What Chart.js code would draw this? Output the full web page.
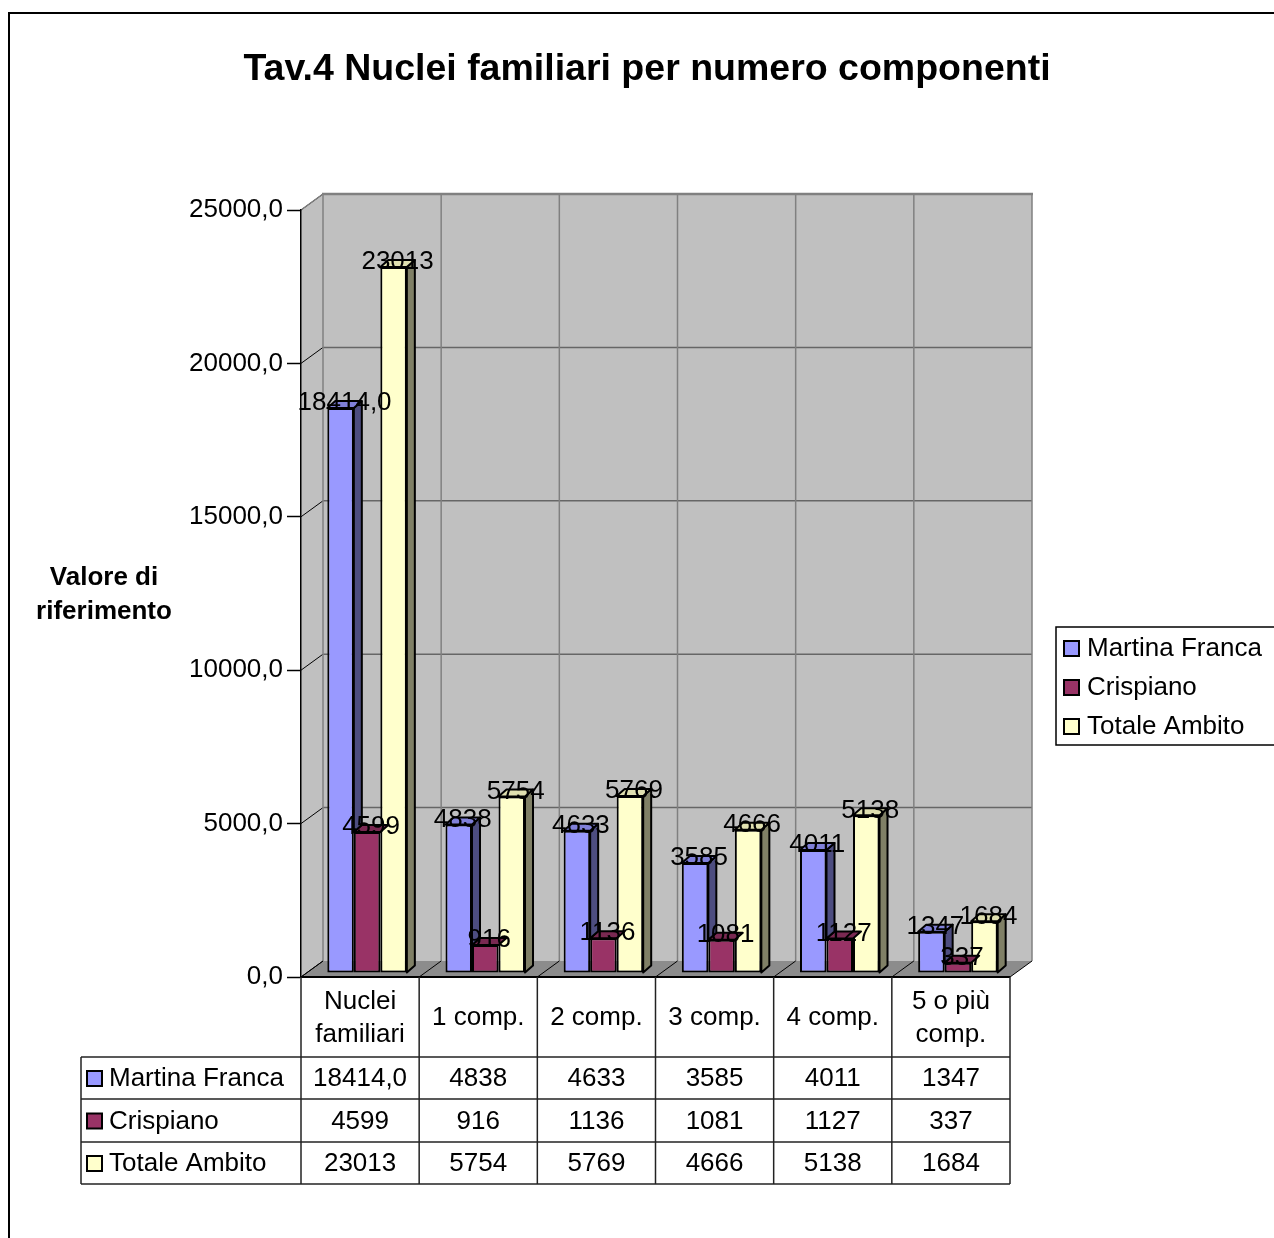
<!DOCTYPE html>
<html>
<head>
<meta charset="utf-8">
<script src="https://cdn.jsdelivr.net/npm/chart.js@4.4.1/dist/chart.umd.min.js"></script>
<style>
  body { margin: 0; background: #fff; }
  canvas { display: block; }
</style>
</head>
<body>
<canvas id="chart" width="1274" height="1238"></canvas>
<script>
// data
const categories = [["Nuclei", "familiari"], ["1 comp."], ["2 comp."], ["3 comp."], ["4 comp."], ["5 o più", "comp."]];
const seriesNames = ["Martina Franca", "Crispiano", "Totale Ambito"];
const martinaFranca = [18414, 4838, 4633, 3585, 4011, 1347];
const crispiano = [4599, 916, 1136, 1081, 1127, 337];
const totaleAmbito = [23013, 5754, 5769, 4666, 5138, 1684];
const yTicks = [0, 5000, 10000, 15000, 20000, 25000];

const FONT = "'Liberation Sans', Arial, sans-serif";
const frontColors = ["#9999FF", "#993366", "#FFFFCC"];
const sideColors = ["#4D4D80", "#4D1A33", "#808066"];
const topColors = ["#8080D9", "#7A2952", "#E0E0B0"];

const WALL_DX = 22, WALL_DY = -16;        // depth of the walls
const BAR_SHIFT_X = 7, BAR_SHIFT_Y = -4;  // bars stand a little inside the floor
const BAR_DX = 8, BAR_DY = -7;            // depth of a bar

function fmtComma(v) {
    return v.toFixed(1).replace(".", ",");
}

function valueText(series, i, v) {
    // only the first value of the first series is shown with a decimal
    return (series === 0 && i === 0) ? fmtComma(v) : String(v);
}

function poly(ctx, pts, fill, stroke, lw) {
    ctx.beginPath();
    ctx.moveTo(pts[0][0], pts[0][1]);
    for (let i = 1; i < pts.length; i++) ctx.lineTo(pts[i][0], pts[i][1]);
    ctx.closePath();
    if (fill) { ctx.fillStyle = fill; ctx.fill(); }
    if (stroke) { ctx.strokeStyle = stroke; ctx.lineWidth = lw || 1; ctx.stroke(); }
}

function line(ctx, x1, y1, x2, y2, color, lw) {
    ctx.beginPath();
    ctx.moveTo(x1, y1);
    ctx.lineTo(x2, y2);
    ctx.strokeStyle = color;
    ctx.lineWidth = lw;
    ctx.stroke();
}

const box3d = {
    id: "box3d",
    beforeDraw(chart) {
        const ctx = chart.ctx, a = chart.chartArea, ys = chart.scales.y;
        const catW = (a.right - a.left) / categories.length;
        ctx.save();
        ctx.fillStyle = "#fff";
        ctx.fillRect(0, 0, chart.width, chart.height);

        // outer frame of the chart object
        ctx.strokeStyle = "#000";
        ctx.lineWidth = 2;
        ctx.strokeRect(9, 13, 1400, 1400);

        // back wall
        ctx.fillStyle = "#C0C0C0";
        ctx.fillRect(a.left + WALL_DX, a.top + WALL_DY, a.right - a.left, a.bottom - a.top);
        // left wall
        poly(ctx, [[a.left, a.top], [a.left + WALL_DX, a.top + WALL_DY],
                   [a.left + WALL_DX, a.bottom + WALL_DY], [a.left, a.bottom]], "#C0C0C0");
        // floor
        poly(ctx, [[a.left, a.bottom], [a.right, a.bottom],
                   [a.right + WALL_DX, a.bottom + WALL_DY], [a.left + WALL_DX, a.bottom + WALL_DY]], "#8C8C8C");

        // horizontal gridlines on back wall and left wall
        yTicks.forEach(v => {
            const py = ys.getPixelForValue(v);
            if (v > 0) line(ctx, a.left + WALL_DX, py + WALL_DY, a.right + WALL_DX, py + WALL_DY, "#666", 1.5);
            line(ctx, a.left, py, a.left + WALL_DX, py + WALL_DY, "#000", 1);
        });
        // vertical gridlines on back wall and the floor
        for (let i = 0; i <= categories.length; i++) {
            const px = a.left + i * catW;
            line(ctx, px + WALL_DX, a.top + WALL_DY, px + WALL_DX, a.bottom + WALL_DY, "#808080", 1.5);
            line(ctx, px, a.bottom, px + WALL_DX, a.bottom + WALL_DY, "#000", 1);
        }
        line(ctx, a.left + WALL_DX - 1, a.top + WALL_DY, a.right + WALL_DX + 1, a.top + WALL_DY, "#808080", 2.5);
        line(ctx, a.left, a.top, a.left + WALL_DX, a.top + WALL_DY, "#808080", 1.5);
        line(ctx, a.left, a.bottom, a.right, a.bottom, "#000", 2);
        ctx.restore();
    },
    beforeDatasetsDraw(chart) {
        chart.ctx.save();
        chart.ctx.translate(BAR_SHIFT_X, BAR_SHIFT_Y);
    },
    beforeDatasetDraw(chart, args) {
        const ctx = chart.ctx, si = args.index;
        const next = si + 1 < chart.data.datasets.length ? chart.getDatasetMeta(si + 1) : null;
        ctx.save();
        ctx.lineJoin = "round";
        args.meta.data.forEach((bar, i) => {
            const p = bar.getProps(["x", "y", "base", "width"], true);
            const l = p.x - p.width / 2, r = p.x + p.width / 2;
            const t = Math.min(p.y, p.base), b = Math.max(p.y, p.base);
            // the side face is hidden by the front of the bar to its right
            let bb = b;
            if (next) {
                const q = next.data[i].getProps(["y", "base"], true);
                bb = Math.max(t, Math.min(b, Math.min(q.y, q.base)));
            }
            if (bb > t) {
                poly(ctx, [[r, t], [r + BAR_DX, t + BAR_DY], [r + BAR_DX, bb + BAR_DY], [r, bb]], sideColors[si], "#000", 2);
            }
            poly(ctx, [[l, t], [r, t], [r + BAR_DX, t + BAR_DY], [l + BAR_DX, t + BAR_DY]], topColors[si], "#000", 2);
        });
        ctx.restore();
    },
    afterDatasetsDraw(chart) {
        const ctx = chart.ctx;
        ctx.restore();
        // value labels above the bars
        ctx.save();
        ctx.font = "26px " + FONT;
        ctx.fillStyle = "#000";
        ctx.textAlign = "center";
        ctx.textBaseline = "middle";
        chart.data.datasets.forEach((ds, si) => {
            chart.getDatasetMeta(si).data.forEach((bar, i) => {
                const p = bar.getProps(["x", "y"], true);
                ctx.fillText(valueText(si, i, ds.data[i]), p.x + BAR_SHIFT_X + BAR_DX / 2, p.y + BAR_SHIFT_Y - 5);
            });
        });
        ctx.restore();
    },
    afterDraw(chart) {
        const ctx = chart.ctx, a = chart.chartArea;
        const catW = (a.right - a.left) / categories.length;
        ctx.save();
        ctx.fillStyle = "#000";

        // title
        ctx.font = "bold 37.5px " + FONT;
        ctx.textAlign = "center";
        ctx.textBaseline = "middle";
        ctx.fillText("Tav.4 Nuclei familiari per numero componenti", 647, 70);

        // y axis title
        ctx.font = "bold 26px " + FONT;
        ctx.fillText("Valore di", 104, 578);
        ctx.fillText("riferimento", 104, 612);

        // data table
        const tableLeft = 81, rowTops = [a.bottom, 1057, 1099, 1142, 1184];
        const lc = "#222";
        for (let r = 1; r < rowTops.length; r++) line(ctx, tableLeft, rowTops[r], a.right, rowTops[r], lc, 1.5);
        line(ctx, tableLeft, rowTops[1], tableLeft, rowTops[4], lc, 1.5);
        for (let i = 0; i <= categories.length; i++) {
            const px = a.left + i * catW;
            line(ctx, px, a.bottom, px, rowTops[4], lc, 1.5);
        }
        ctx.font = "26px " + FONT;
        ctx.textAlign = "center";
        categories.forEach((lab, i) => {
            const cx = a.left + (i + 0.5) * catW;
            const cy = (rowTops[0] + rowTops[1]) / 2 + 1;
            lab.forEach((t, k) => ctx.fillText(t, cx, cy + (k - (lab.length - 1) / 2) * 33));
        });
        chart.data.datasets.forEach((ds, si) => {
            const cy = (rowTops[si + 1] + rowTops[si + 2]) / 2 + 1;
            ds.data.forEach((v, i) => {
                ctx.fillStyle = "#000";
                ctx.textAlign = "center";
                ctx.fillText(valueText(si, i, v), a.left + (i + 0.5) * catW, cy);
            });
            ctx.fillStyle = frontColors[si];
            ctx.fillRect(87, cy - 8, 15, 15);
            ctx.strokeStyle = "#000";
            ctx.lineWidth = 2;
            ctx.strokeRect(87, cy - 8, 15, 15);
            ctx.fillStyle = "#000";
            ctx.textAlign = "left";
            ctx.fillText(seriesNames[si], 109, cy);
        });

        // legend
        ctx.strokeStyle = "#000";
        ctx.lineWidth = 1.5;
        ctx.strokeRect(1056, 627, 300, 118);
        seriesNames.forEach((name, si) => {
            const cy = 649 + si * 39;
            ctx.fillStyle = frontColors[si];
            ctx.fillRect(1064, cy - 8, 15, 15);
            ctx.lineWidth = 2;
            ctx.strokeRect(1064, cy - 8, 15, 15);
            ctx.fillStyle = "#000";
            ctx.textAlign = "left";
            ctx.fillText(name, 1087, cy);
        });
        ctx.restore();
    }
};

const ctx = document.getElementById("chart").getContext("2d");
new Chart(ctx, {
    type: "bar",
    data: {
        labels: categories.map(c => c.join(" ")),
        datasets: [martinaFranca, crispiano, totaleAmbito].map((d, si) => ({
            label: seriesNames[si],
            data: d,
            backgroundColor: frontColors[si],
            borderColor: "#000",
            borderWidth: 2,
            borderSkipped: false,
            barPercentage: 1,
            categoryPercentage: 0.673
        }))
    },
    options: {
        responsive: false,
        animation: false,
        events: [],
        layout: { padding: { left: 101, top: 210, right: 264, bottom: 261 } },
        plugins: {
            legend: { display: false },
            title: { display: false },
            tooltip: { enabled: false }
        },
        scales: {
            x: { display: false },
            y: {
                min: 0,
                max: 25000,
                afterFit: s => { s.width = 200; },
                afterBuildTicks: s => { s.ticks = yTicks.map(v => ({ value: v })); },
                ticks: {
                    callback: v => fmtComma(v),
                    color: "#000",
                    padding: 4,
                    font: { size: 26, family: FONT }
                },
                grid: { drawOnChartArea: false, tickLength: 14, color: "#000", tickWidth: 1.5 },
                border: { display: true, color: "#000", width: 1.5 }
            }
        }
    },
    plugins: [box3d]
});
</script>
</body>
</html>
